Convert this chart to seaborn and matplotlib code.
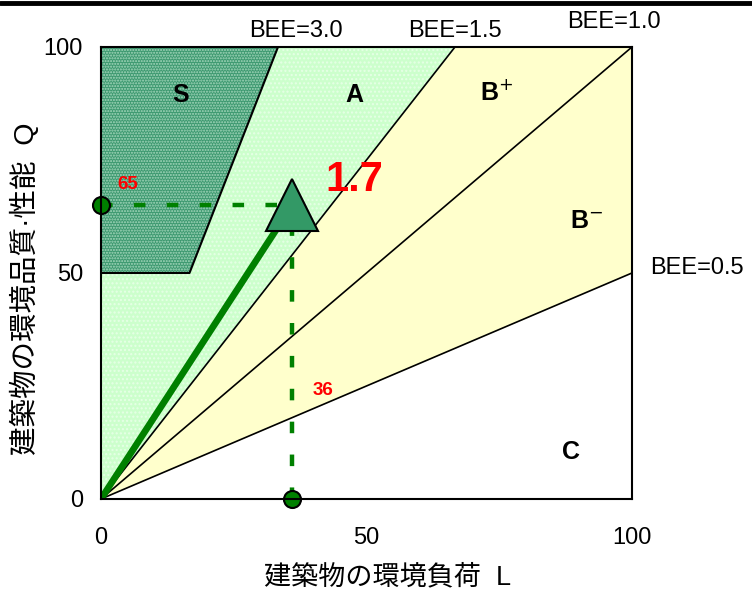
import numpy as np
import pandas as pd
import matplotlib
matplotlib.use("Agg")
import matplotlib.pyplot as plt
from matplotlib.lines import Line2D
import seaborn as sns

# BEE boundaries and the evaluated building
bee_lines = [3.0, 1.5, 1.0, 0.5]
bee_labels = ["BEE=3.0", "BEE=1.5", "BEE=1.0", "BEE=0.5"]
rank_names = ["S", "A", "B$^{+}$", "B$^{-}$", "C"]
L_val = 36
Q_val = 65
bee_val = "1.7"
ticks = [0, 50, 100]

sns.set_theme(style="white")
plt.rcParams['font.family'] = ['Liberation Sans', 'Noto Sans CJK JP', 'DejaVu Sans']
plt.rcParams['text.color'] = 'black'
plt.rcParams['axes.labelcolor'] = 'black'
plt.rcParams['xtick.color'] = 'black'
plt.rcParams['ytick.color'] = 'black'

fig = plt.figure(figsize=(7.52, 5.91), dpi=100)
ax = fig.add_axes([0.1343, 0.1557, 0.7061, 0.7648])
ax.set_xlim(0, 100)
ax.set_ylim(0, 100)

x = np.linspace(0, 100, 401)
lim = lambda b: np.clip(b * x, 0, 100)
# C below 0.5 is white, B between 0.5 and 1.5 yellow, A above 1.5 green
ax.fill_between(x, lim(bee_lines[3]), lim(bee_lines[1]), color="#ffffcc", lw=0)
ax.fill_between(x, lim(bee_lines[1]), 100, color="#ccffcc", lw=0)
ax.fill_between(x, lim(bee_lines[1]), 100, facecolor="none", edgecolor="#e6ffe6",
                hatch="....", lw=0)
# S region: BEE >= 3 and Q >= 50
s_top = 100 / bee_lines[0]
s_bot = 50 / bee_lines[0]
s_poly = np.array([[0, 50], [s_bot, 50], [s_top, 100], [0, 100]])
ax.fill(s_poly[:, 0], s_poly[:, 1], facecolor="#3d9970", edgecolor="#a6d8bd",
        hatch="......", lw=0)
ax.plot([0, s_bot, s_top], [50, 50, 100], color="black", lw=1.5)
for b in bee_lines[1:]:
    xe = min(100, 100 / b)
    ax.plot([0, xe], [0, b * xe], color="black", lw=1.2)

# dashed guides
ax.plot([0, L_val], [Q_val, Q_val], color="#008000", lw=3.2, dashes=(2.6, 4.8))
ax.plot([L_val, L_val], [0, Q_val], color="#008000", lw=3.2, dashes=(2.6, 4.8))

# BEE vector
vec = pd.DataFrame({"L": [0, L_val], "Q": [0, Q_val]})
sns.lineplot(data=vec, x="L", y="Q", color="#008000", lw=4.8, ax=ax,
             solid_capstyle="round")
ax.plot([L_val], [Q_val], marker="^", markersize=38, color="#339966",
        markeredgecolor="black", markeredgewidth=1.5, clip_on=False, zorder=5)
pts = pd.DataFrame({"L": [0, L_val], "Q": [Q_val, 0]})
sns.scatterplot(data=pts, x="L", y="Q", s=150, color="#008000",
                edgecolor="black", linewidth=1.5, ax=ax, clip_on=False, zorder=6)

# texts
ax.text(5.0, Q_val + 4.5, str(Q_val), color="red", fontsize=13.5,
        fontweight="bold", ha="center", va="center")
ax.text(L_val + 5.8, 24.0, str(L_val), color="red", fontsize=13.5,
        fontweight="bold", ha="center", va="center")
ax.text(47.7, 70.6, bee_val, color="red", fontsize=30, fontweight="bold",
        ha="center", va="center")

rank_pos = [(15, 89.4), (47.8, 89.4), (74.5, 90.0), (91.5, 61.4), (88.6, 10.5)]
for name, (px, py) in zip(rank_names, rank_pos):
    ax.text(px, py, name, fontsize=18, fontweight="bold", ha="center", va="center")

label_pos = [(36.7, 101.0), (66.7, 101.0), (96.6, 103.0), (103.5, 48.6)]
for lab, (px, py) in zip(bee_labels, label_pos):
    ax.text(px, py, lab, fontsize=17, ha="left" if lab == "BEE=0.5" else "center",
            va="bottom", clip_on=False)

ax.set_xticks(ticks)
ax.set_yticks(ticks)
ax.tick_params(labelsize=17, length=0)
ax.tick_params(axis="x", pad=20)
ax.tick_params(axis="y", pad=13)
ax.set_xlabel("建築物の環境負荷  L", fontsize=19.5, va="center")
ax.set_ylabel("建築物の環境品質·性能  Q", fontsize=20.5, va="center")
ax.xaxis.set_label_coords(0.539, -0.173)
ax.yaxis.set_label_coords(-0.143, 0.465)
for sp in ax.spines.values():
    sp.set_color("black")
    sp.set_linewidth(1.5)
    sp.set_zorder(7)

fig.add_artist(Line2D([0, 1], [0.995, 0.995], color="black", lw=3.5,
                      transform=fig.transFigure))

fig.savefig("out.png", dpi=100)
